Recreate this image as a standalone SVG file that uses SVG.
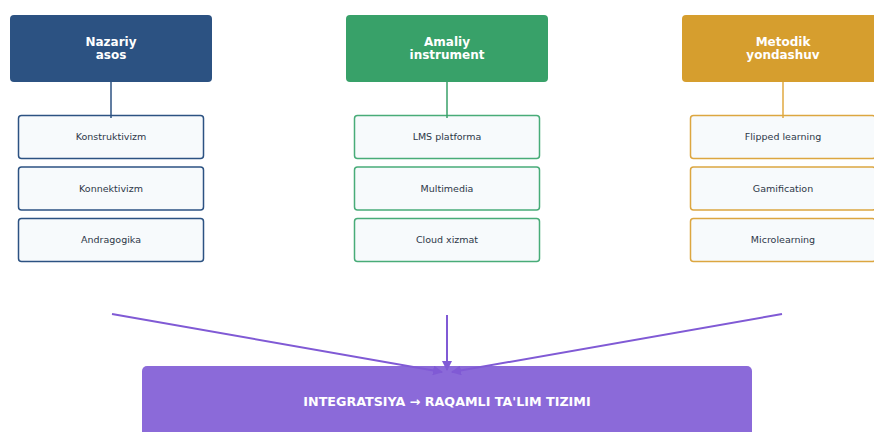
<svg xmlns="http://www.w3.org/2000/svg" width="874" height="432" viewBox="0 0 874 432">
<defs>
<style>
.hd{font-family:"DejaVu Sans",sans-serif;font-size:12px;font-weight:bold;fill:#fff;text-anchor:middle}
.sb{font-family:"DejaVu Sans",sans-serif;font-size:9.5px;fill:#2d3748;text-anchor:middle}
.ft{font-family:"DejaVu Sans",sans-serif;font-size:12.7px;font-weight:bold;fill:#fff;text-anchor:middle}
.box{fill:#f7fafc;stroke-width:1.5}
.arr{stroke:#805ad5;stroke-width:2;fill:none;marker-end:url(#ah)}
</style>
<marker id="ah" viewBox="0 0 10 10" refX="9" refY="5" markerWidth="5" markerHeight="5" orient="auto">
<path d="M0,0 L10,5 L0,10 z" fill="#805ad5"/>
</marker>
</defs>
<rect width="874" height="432" fill="#fff"/>
<g id="col1">
<g id="nazariy"><rect x="10" y="15" width="202" height="67" rx="4" fill="#2c5282"/><text class="hd" x="111" y="46">Nazariy</text><text class="hd" x="111" y="59">asos</text></g>
<g id="konstruktivizm"><rect class="box" x="18.5" y="115.5" width="185" height="43" rx="3" stroke="#2c5282"/><text class="sb" x="111" y="140">Konstruktivizm</text></g>
<g id="konnektivizm"><rect class="box" x="18.5" y="167" width="185" height="43" rx="3" stroke="#2c5282"/><text class="sb" x="111" y="191.5">Konnektivizm</text></g>
<g id="andragogika"><rect class="box" x="18.5" y="218.5" width="185" height="43" rx="3" stroke="#2c5282"/><text class="sb" x="111" y="243">Andragogika</text></g>
</g>
<g id="col2">
<g id="amaliy"><rect x="346" y="15" width="202" height="67" rx="4" fill="#38a169"/><text class="hd" x="447" y="46">Amaliy</text><text class="hd" x="447" y="59">instrument</text></g>
<g id="lms"><rect class="box" x="354.5" y="115.5" width="185" height="43" rx="3" stroke="#48ac78"/><text class="sb" x="447" y="140">LMS platforma</text></g>
<g id="multimedia"><rect class="box" x="354.5" y="167" width="185" height="43" rx="3" stroke="#48ac78"/><text class="sb" x="447" y="191.5">Multimedia</text></g>
<g id="cloud"><rect class="box" x="354.5" y="218.5" width="185" height="43" rx="3" stroke="#48ac78"/><text class="sb" x="447" y="243">Cloud xizmat</text></g>
</g>
<g id="col3">
<g id="metodik"><rect x="682" y="15" width="202" height="67" rx="4" fill="#d69e2e"/><text class="hd" x="783" y="46">Metodik</text><text class="hd" x="783" y="59">yondashuv</text></g>
<g id="flipped"><rect class="box" x="690.5" y="115.5" width="185" height="43" rx="3" stroke="#dca640"/><text class="sb" x="783" y="140">Flipped learning</text></g>
<g id="gamification"><rect class="box" x="690.5" y="167" width="185" height="43" rx="3" stroke="#dca640"/><text class="sb" x="783" y="191.5">Gamification</text></g>
<g id="microlearning"><rect class="box" x="690.5" y="218.5" width="185" height="43" rx="3" stroke="#dca640"/><text class="sb" x="783" y="243">Microlearning</text></g>
</g>
<g id="integratsiya"><rect x="142" y="366" width="610" height="80" rx="5" fill="#8b6ad9"/><text class="ft" x="447" y="406">INTEGRATSIYA → RAQAMLI TA'LIM TIZIMI</text></g>
<g id="connectors">
<line x1="111" y1="82" x2="111" y2="118" stroke="#2c5282" stroke-width="1.5"/>
<line x1="447" y1="82" x2="447" y2="118" stroke="#38a169" stroke-width="1.5"/>
<line x1="783" y1="82" x2="783" y2="118" stroke="#e0a840" stroke-width="1.5"/>
<line class="arr" x1="112" y1="314" x2="442" y2="372"/>
<line class="arr" x1="447" y1="315" x2="447" y2="370"/>
<line class="arr" x1="782" y1="314" x2="452" y2="372"/>
</g>
</svg>
